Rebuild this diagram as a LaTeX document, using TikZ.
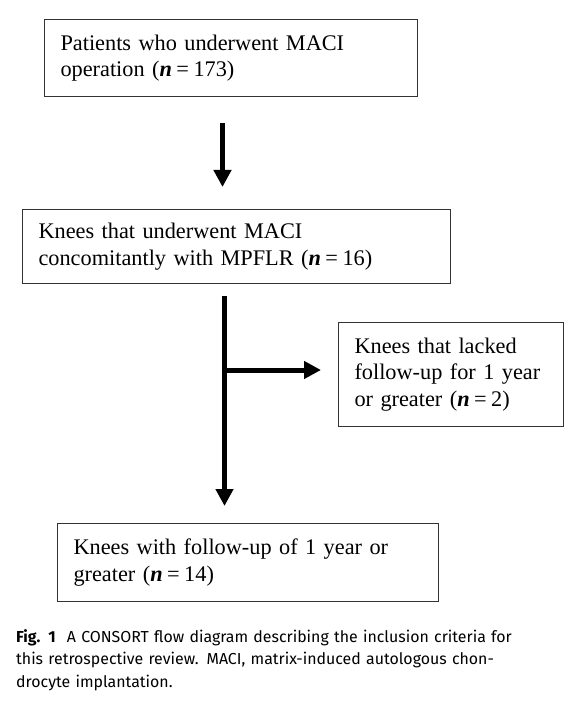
\documentclass[tikz,border=0pt]{standalone}
\usepackage{fontspec}
\setmainfont{Liberation Serif}
\newfontfamily\capfont{Fira Sans}
\usetikzlibrary{arrows.meta}
\tikzset{
  box/.style={draw=black!80, line width=1pt, anchor=north west, inner xsep=16pt, inner ysep=0pt,
    align=left, font=\fontsize{22.3}{26.5}\selectfont},
  flow/.style={line width=5pt, -{Triangle[width=17pt,length=17pt]}},
  caption/.style={anchor=base west, inner sep=0pt, align=left, text width=560pt,
    font=\capfont\fontsize{15.9}{22.5}\selectfont}
}
\newcommand{\nn}{\textbf{\textit{n}}\hspace{4.5pt}=\hspace{4.5pt}}
\begin{document}
\begin{tikzpicture}[x=1pt,y=-1pt]
\useasboundingbox (0,0) rectangle (583,714);
\node[box, text width=341pt, minimum height=77pt] (b1) at (44,19)
  {\mbox{Patients who underwent MACI}\\ \mbox{operation (\nn173)}};
\node[box, text width=396pt, minimum height=74pt] (b2) at (22,209)
  {\mbox{Knees that underwent MACI}\\ \mbox{concomitantly with MPFLR (\nn16)}};
\node[box, text width=193pt, minimum height=104pt] (b3) at (338,322)
  {\mbox{Knees that lacked}\\ \mbox{follow-up for 1 year}\\ \mbox{or greater (\nn2)}};
\node[box, text width=349pt, minimum height=78pt] (b4) at (57,523)
  {\mbox{Knees with follow-up of 1 year or}\\ \mbox{greater (\nn14)}};
\coordinate (a1s) at (222.5,123);
\coordinate (a1e) at (222.5,187);
\coordinate (a2s) at (224.5,296);
\coordinate (a2e) at (224.5,506);
\coordinate (br) at (224.5,370);
\coordinate (bre) at (321,370);
\draw[flow] (a1s) -- (a1e);
\draw[flow] (a2s) -- (a2e);
\draw[flow] (br) -- (bre);
\node[caption] (cap) at (16,642)
  {\textbf{Fig. 1}\hspace{11pt}A CONSORT flow diagram describing the inclusion criteria for\\
   this retrospective review. MACI, matrix-induced autologous chon-\\
   drocyte implantation.};
\end{tikzpicture}
\end{document}
